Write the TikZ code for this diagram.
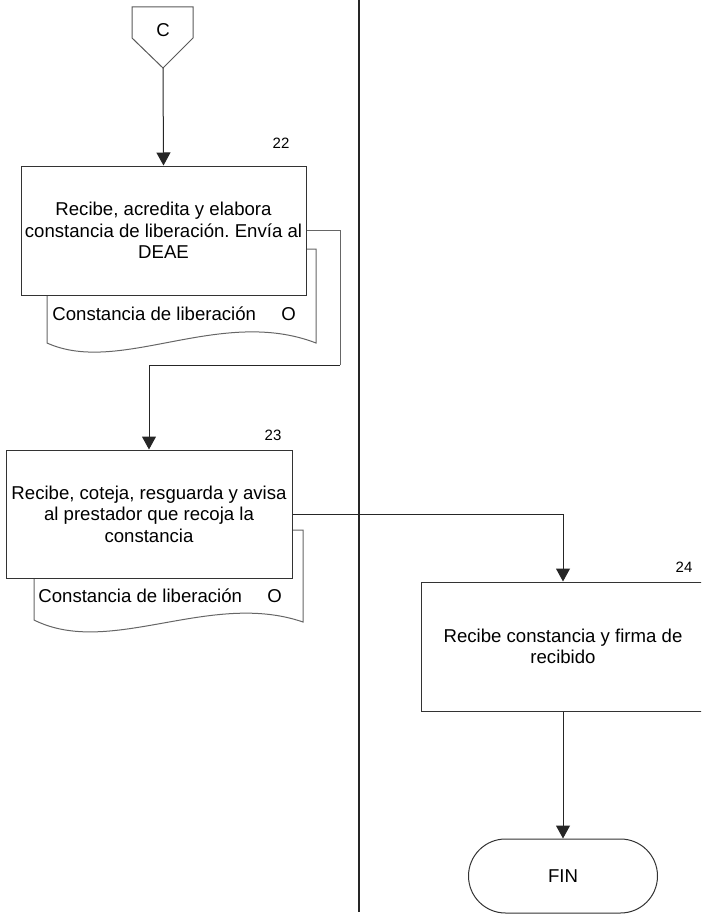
\documentclass[tikz,border=0pt]{standalone}
\usepackage{fontspec}
\setmainfont{Liberation Sans}
\usepackage{tikz}
\usetikzlibrary{calc}
\usetikzlibrary{arrows.meta,positioning}
\frenchspacing

\begin{document}
\begin{tikzpicture}[
  x=0.5pt,y=-0.5pt,
  line join=miter,
  font=\fontsize{9.3pt}{10.75pt}\selectfont,
  proc/.style={draw=black!80,line width=0.5pt,fill=white,align=center,inner sep=0pt},
  docu/.style={draw=black!60,line width=0.5pt,fill=white},
  flow/.style={draw=black!85,line width=0.5pt,-{Triangle[width=7pt,length=6.5pt]}},
  flowgray/.style={draw=black!60,line width=0.5pt},
  lane/.style={draw=black!85,line width=1.3pt},
  num/.style={font=\fontsize{7.5pt}{9pt}\selectfont,inner sep=0pt},
  doctext/.style={anchor=west,inner sep=0pt}
]
  \useasboundingbox (0,0) rectangle (701,915);
  \clip (0,0) rectangle (701,915);

  % Lane divider
  \coordinate (laneTop) at (359,0);
  \coordinate (laneBot) at (359,912);
  \draw[lane] (laneTop) -- (laneBot);

  % Off-page connector
  \draw[draw=black!65,line width=0.5pt,fill=white]
    (132,7) -- (193,7) -- (193,38) -- (163,68) -- (132,38) -- cycle;
  \node (conC) at (163,30) {C};
  \coordinate (conCtip) at (163,68);

  % Document behind step 22
  \draw[docu]
    (47,249) -- (316,249) -- (316,343)
      .. controls (220,306) and (120,376) .. (47,343) -- cycle;
  \node[doctext] (doc22) at (52,314) {Constancia de liberación};
  \node[doctext] (doc22o) at (281,314) {O};

  % Step 22
  \node[proc,minimum width=142.5pt,minimum height=64.5pt] (b22) at (163.5,230.5)
    {Recibe, acredita y elabora\\constancia de liberación. Envía al\\DEAE};
  \node[num] (n22) at (281,143) {22};

  % Document behind step 23
  \draw[docu]
    (34,530) -- (303,530) -- (303,622)
      .. controls (210,590) and (110,658) .. (34,620) -- cycle;
  \node[doctext] (doc23) at (38,596) {Constancia de liberación};
  \node[doctext] (doc23o) at (267,596) {O};

  % Step 23
  \node[proc,minimum width=143pt,minimum height=64pt] (b23) at (149,514)
    {Recibe, coteja, resguarda y avisa\\al prestador que recoja la\\constancia};
  \node[num] (n23) at (273,435) {23};

  % Step 24
  \node[proc,minimum width=142pt,minimum height=64.5pt] (b24) at (563,646.5)
    {Recibe constancia y firma de\\recibido};
  \node[num] (n24) at (684,567) {24};

  % End
  \node[proc,minimum width=94.5pt,minimum height=37pt,rounded corners=18.5pt] (fin) at (563,876) {FIN};

  % Connectors
  \coordinate (k22) at (340,365);
  \draw[flow] (conCtip) -- (b22.north);
  \draw[flowgray] (b22.east) -| (k22);
  \draw[flow] (k22) -| (b23.north);
  \draw[flow] (b23.east) -| (b24.north);
  \draw[flow] (b24.south) -- (fin.north);
\end{tikzpicture}
\end{document}
